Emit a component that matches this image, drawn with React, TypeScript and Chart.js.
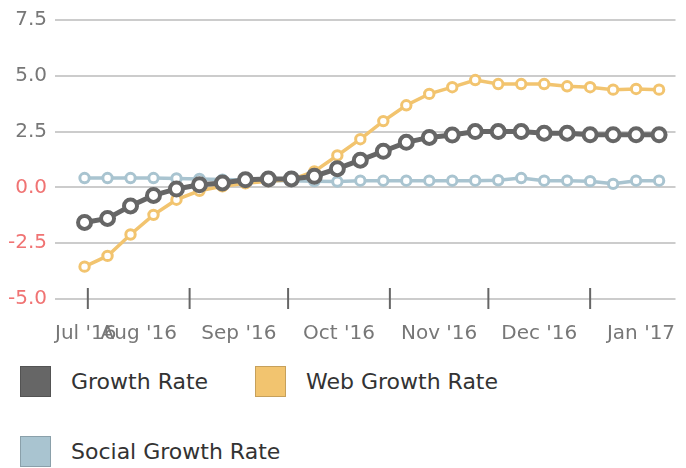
import React, { useEffect, useRef } from 'react';
import { Chart, registerables } from 'chart.js';

Chart.register(...registerables);

// ---- data ----
const dates = [
  '2016-07-31', '2016-08-07', '2016-08-14', '2016-08-21', '2016-08-28',
  '2016-09-04', '2016-09-11', '2016-09-18', '2016-09-25',
  '2016-10-02', '2016-10-09', '2016-10-16', '2016-10-23', '2016-10-30',
  '2016-11-06', '2016-11-13', '2016-11-20', '2016-11-27',
  '2016-12-04', '2016-12-11', '2016-12-18', '2016-12-25',
  '2017-01-01', '2017-01-08', '2017-01-15', '2017-01-22',
];
const growthRate = [
  -1.57, -1.39, -0.83, -0.36, -0.07, 0.12, 0.2, 0.34, 0.38, 0.38, 0.5, 0.84, 1.22,
  1.62, 2.02, 2.24, 2.35, 2.5, 2.5, 2.5, 2.43, 2.43, 2.36, 2.36, 2.36, 2.36,
];
const webGrowthRate = [
  -3.55, -3.07, -2.11, -1.23, -0.55, -0.15, 0.05, 0.18, 0.28, 0.35, 0.72, 1.43, 2.16,
  2.97, 3.68, 4.19, 4.49, 4.81, 4.63, 4.63, 4.63, 4.53, 4.49, 4.38, 4.41, 4.38,
];
const socialGrowthRate = [
  0.42, 0.42, 0.42, 0.42, 0.4, 0.38, 0.35, 0.33, 0.3, 0.3, 0.28, 0.26, 0.3,
  0.3, 0.3, 0.3, 0.3, 0.3, 0.32, 0.42, 0.3, 0.3, 0.28, 0.16, 0.3, 0.3,
];
const seriesLabels = ['Growth Rate', 'Web Growth Rate', 'Social Growth Rate'];
const seriesColors = ['#666666', '#f2c46f', '#a9c4d0'];
const yMin = -5;
const yMax = 7.5;
const yStep = 2.5;
const xRangeStart = '2016-07-22';
const xRangeEnd = '2017-01-27';
const monthNames = ['Jan', 'Feb', 'Mar', 'Apr', 'May', 'Jun', 'Jul', 'Aug', 'Sep', 'Oct', 'Nov', 'Dec'];

const DAY = 86400000;
const toDay = (s: string) => Date.parse(s + 'T00:00:00Z') / DAY;

const FONT = '"DejaVu Sans", sans-serif';

const monthAxisPlugin = {
  id: 'monthAxis',
  afterDraw(chart: any) {
    const xs = chart.scales.x;
    const area = chart.chartArea;
    const ctx = chart.ctx;
    const min = xs.min;
    const max = xs.max;
    const startD = new Date(min * DAY);
    let y = startD.getUTCFullYear();
    let m = startD.getUTCMonth();
    ctx.save();
    ctx.font = '20px ' + FONT;
    ctx.textBaseline = 'middle';
    ctx.textAlign = 'left';
    while (true) {
      const s = Date.UTC(y, m, 1) / DAY;
      const e = Date.UTC(y, m + 1, 1) / DAY;
      if (s > max) break;
      if (s >= min) {
        const px = xs.getPixelForValue(s);
        ctx.strokeStyle = '#666';
        ctx.lineWidth = 2;
        ctx.beginPath();
        ctx.moveTo(px, area.bottom - 11);
        ctx.lineTo(px, area.bottom + 10);
        ctx.stroke();
      }
      const label = monthNames[m] + " '" + String(y % 100).padStart(2, '0');
      const w = ctx.measureText(label).width;
      const cFull = (xs.getPixelForValue(s) + xs.getPixelForValue(e)) / 2;
      let left = cFull - w / 2;
      if (left < area.left) left = area.left;
      ctx.fillStyle = '#777';
      ctx.fillText(label, left, area.bottom + 35);
      m += 1;
      if (m > 11) { m = 0; y += 1; }
    }
    ctx.restore();
  },
};

export default function App() {
  const ref = useRef<HTMLCanvasElement | null>(null);
  useEffect(() => {
    if (!ref.current) return;
    const xVals = dates.map(toDay);
    const series = [growthRate, webGrowthRate, socialGrowthRate];
    const styles = [
      { r: 6.5, bw: 4, lw: 5 },
      { r: 4.7, bw: 3, lw: 3.5 },
      { r: 4.7, bw: 3, lw: 3.5 },
    ];
    const chart = new Chart(ref.current, {
      type: 'line',
      data: {
        datasets: series.map((vals, i) => ({
          label: seriesLabels[i],
          data: vals.map((v, j) => ({ x: xVals[j], y: v })),
          borderColor: seriesColors[i],
          backgroundColor: seriesColors[i],
          borderWidth: styles[i].lw,
          pointRadius: styles[i].r,
          pointBorderWidth: styles[i].bw,
          pointBackgroundColor: '#ffffff',
          pointBorderColor: seriesColors[i],
          tension: 0,
          fill: false,
        })),
      },
      options: {
        animation: false,
        responsive: true,
        maintainAspectRatio: false,
        layout: { padding: { top: 15, bottom: 51, left: 0, right: 0 } },
        plugins: { legend: { display: false }, tooltip: { enabled: false } },
        scales: {
          x: {
            type: 'linear',
            display: false,
            min: toDay(xRangeStart),
            max: toDay(xRangeEnd),
          },
          y: {
            min: yMin,
            max: yMax,
            afterFit: (s: any) => { s.width = 55; },
            ticks: {
              stepSize: yStep,
              padding: 8,
              font: { size: 20, family: FONT },
              color: (c: any) => (c.tick && c.tick.value <= 0 ? '#f07373' : '#777'),
              callback: (v: any) => Number(v).toFixed(1),
            },
            grid: { color: '#cccccc', lineWidth: 2, drawTicks: false },
            border: { display: false },
          },
        },
      },
      plugins: [monthAxisPlugin],
    });
    return () => chart.destroy();
  }, []);

  return (
    <div style={{ position: 'fixed', left: 0, top: 0, width: 686, height: 468, background: '#fff' }}>
      <div style={{ position: 'absolute', left: 0, top: 0, width: 686, height: 350 }}>
        <canvas ref={ref} />
      </div>
      <div
        style={{
          position: 'absolute', left: 20, top: 366, width: 500,
          display: 'flex', flexWrap: 'wrap', rowGap: 39,
          fontFamily: FONT, fontSize: 22, color: '#333',
        }}
      >
        {seriesLabels.map((l, i) => (
          <div key={l} style={{ width: 235, display: 'flex', alignItems: 'center', height: 31 }}>
            <div style={{ width: 29, height: 29, background: seriesColors[i], border: '1px solid rgba(0,0,0,0.18)', marginRight: 20, flex: 'none' }} />
            <span style={{ whiteSpace: 'nowrap' }}>{l}</span>
          </div>
        ))}
      </div>
    </div>
  );
}
